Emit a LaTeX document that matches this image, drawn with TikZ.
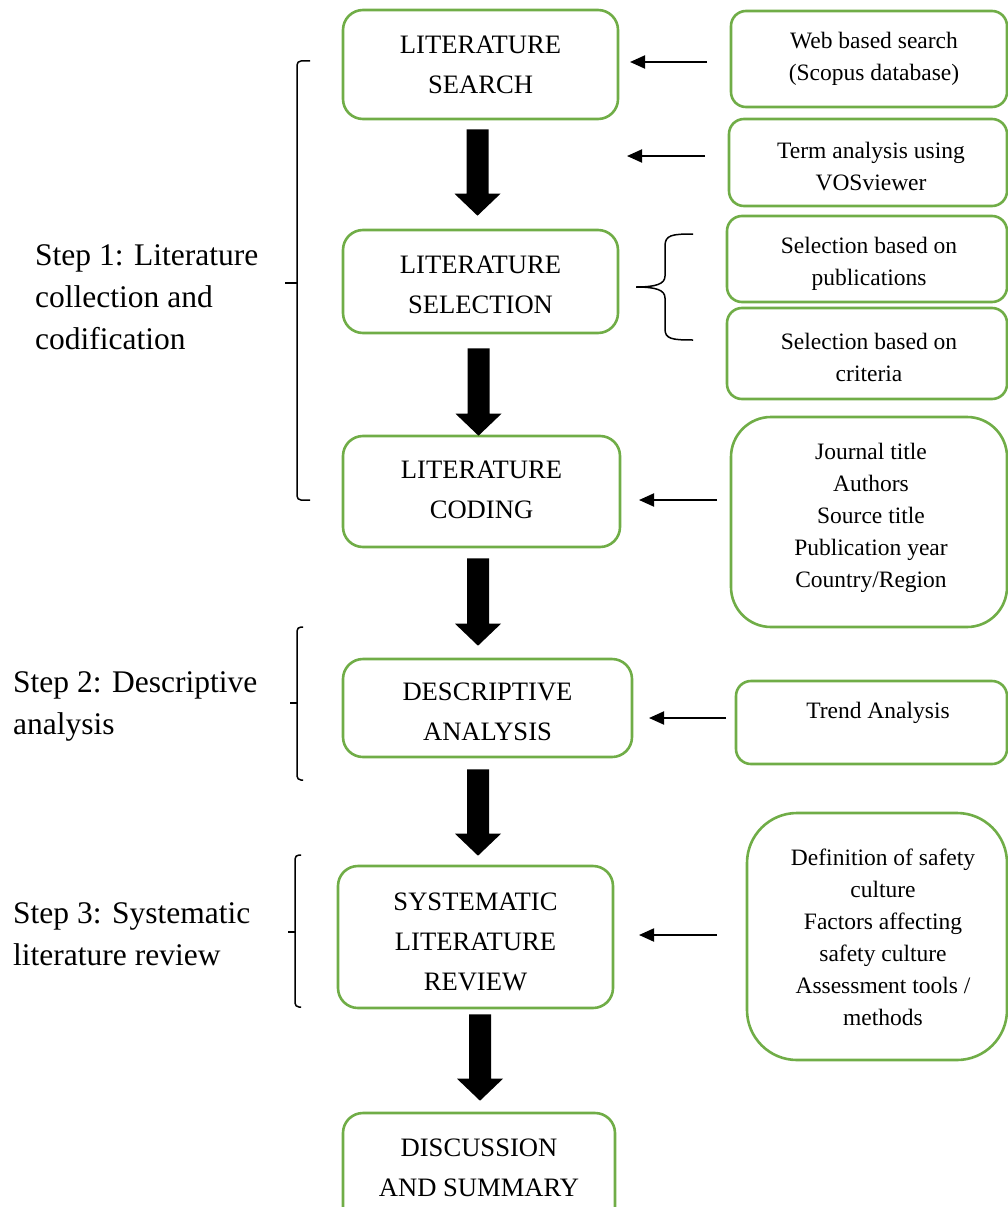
\documentclass[tikz,border=0pt]{standalone}
\usepackage{fontspec}
\setmainfont{Liberation Serif}
\usetikzlibrary{arrows.meta,calc}
\definecolor{bgreen}{RGB}{112,173,71}
\newcommand\blkarrow[2]{\fill let \p1=(#1), \p2=(#2) in (\x1-11pt,\y1) -- (\x1+11pt,\y1) -- (\x1+11pt,\y2+22pt) -- (\x1+23pt,\y2+22pt) -- (\x1,\y2) -- (\x1-23pt,\y2+22pt) -- (\x1-11pt,\y2+22pt) -- cycle;}
\begin{document}
\begin{tikzpicture}[x=1pt,y=-1pt,
  mbox/.style={draw=bgreen, line width=2.6pt, rounded corners=20pt, inner sep=0pt},
  rbox/.style={draw=bgreen, line width=2.6pt, rounded corners=15pt, inner sep=0pt},
  mtxt/.style={inner sep=0pt, align=center, font=\fontsize{26.6}{40}\selectfont},
  rtxt/.style={inner sep=0pt, align=center, font=\fontsize{23.5}{32}\selectfont},
  ltxt/.style={inner sep=0pt, align=left, anchor=west, font=\fontsize{31.5}{42}\selectfont},
  sarrow/.style={line width=1.9pt, -{Triangle[length=15pt,width=13pt]}},
  brk/.style={line width=1.5pt, rounded corners=4pt}]
\useasboundingbox (0,0) rectangle (1008,1207);

% main boxes
\node[mbox, minimum width=275pt, minimum height=109pt] (s1) at (480.5,64.5) {};
\node[mtxt] (s1t) at (480.5,64.5) {LITERATURE\\SEARCH};
\node[mbox, minimum width=275pt, minimum height=103pt] (s2) at (480.5,281.5) {};
\node[mtxt] (s2t) at (480.5,285) {LITERATURE\\SELECTION};
\node[mbox, minimum width=277pt, minimum height=111pt] (s3) at (481.5,491.5) {};
\node[mtxt] (s3t) at (481.5,490) {LITERATURE\\CODING};
\node[mbox, minimum width=289pt, minimum height=98pt] (s4) at (487.5,708) {};
\node[mtxt] (s4t) at (487.5,712) {DESCRIPTIVE\\ANALYSIS};
\node[mbox, minimum width=275pt, minimum height=142pt] (s5) at (475.5,937) {};
\node[mtxt] (s5t) at (475.5,942) {SYSTEMATIC\\LITERATURE\\REVIEW};
\node[mbox, minimum width=272pt, minimum height=130pt] (s6) at (479,1178) {};
\node[mtxt] (s6t) at (479,1167.5) {DISCUSSION\\AND SUMMARY};

% right boxes
\node[rbox, minimum width=276pt, minimum height=96pt] (r1) at (869,59) {};
\node[rtxt] (r1t) at (874,59) {Web based search\\(Scopus database)};
\node[rbox, minimum width=278pt, minimum height=87pt] (r2) at (868,162.5) {};
\node[rtxt] (r2t) at (871,167) {Term analysis using\\VOSviewer};
\node[rbox, minimum width=280pt, minimum height=86pt] (r3) at (867,259) {};
\node[rtxt] (r3t) at (869,263.5) {Selection based on\\publications};
\node[rbox, minimum width=280pt, minimum height=91pt] (r4) at (867,353.5) {};
\node[rtxt] (r4t) at (869,357) {Selection based on\\criteria};
\node[rbox, rounded corners=40pt, minimum width=276pt, minimum height=210pt] (r5) at (869,522) {};
\node[rtxt] (r5t) at (871,518) {Journal title\\Authors\\Source title\\Publication year\\Country/Region};
\node[rbox, minimum width=271pt, minimum height=83pt] (r6) at (871.5,722.5) {};
\node[rtxt] (r6t) at (878,713) {Trend Analysis};
\node[rbox, rounded corners=50pt, minimum width=260pt, minimum height=247pt] (r7) at (877,936.5) {};
\node[rtxt] (r7t) at (883,937.5) {Definition of safety\\culture\\Factors affecting\\safety culture\\Assessment tools /\\methods};

% left step labels
\node[ltxt] (l1) at (35,297) {Step 1: Literature\\collection and\\codification};
\node[ltxt] (l2) at (13,706.5) {Step 2: Descriptive\\analysis};
\node[ltxt] (l3) at (13,934) {Step 3: Systematic\\literature review};

% block arrows
\path (s1.south) ++(-3,9) coordinate (b1s);  \path (s2.north) ++(-3,-13) coordinate (b1e);
\path (s2.south) ++(-2,14) coordinate (b2s); \path (s3.north) ++(-2,1) coordinate (b2e);
\path (s3.south) ++(-3.5,10) coordinate (b3s); \path (s4.north) ++(-9.5,-12) coordinate (b3e);
\path (s4.south) ++(-9.5,11) coordinate (b4s); \path (s5.north) ++(2.5,-9) coordinate (b4e);
\path (s5.south) ++(4.5,5) coordinate (b5s); \path (s6.north) ++(1,-11) coordinate (b5e);
\blkarrow{b1s}{b1e}
\blkarrow{b2s}{b2e}
\blkarrow{b3s}{b3e}
\blkarrow{b4s}{b4e}
\blkarrow{b5s}{b5e}

% small arrows
\coordinate (a1s) at (707,62);  \coordinate (a1e) at (630,62);
\coordinate (a2s) at (705,156); \coordinate (a2e) at (627,156);
\coordinate (a5s) at (717,500); \coordinate (a5e) at (639,500);
\coordinate (a6s) at (726,718); \coordinate (a6e) at (649,718);
\coordinate (a7s) at (717,935); \coordinate (a7e) at (639,935);
\draw[sarrow] (a1s) -- (a1e);
\draw[sarrow] (a2s) -- (a2e);
\draw[sarrow] (a5s) -- (a5e);
\draw[sarrow] (a6s) -- (a6e);
\draw[sarrow] (a7s) -- (a7e);

% curly brace for selection
\draw[line width=1.5pt] (693,234) .. controls (672,234) and (665,235) .. (665,246) -- (665,276)
  .. controls (665,284) and (656,287) .. (636,287)
  .. controls (656,287) and (665,290) .. (665,298) -- (665,329)
  .. controls (665,339) and (672,340) .. (693,340);

% left brackets
\draw[brk] (310,61) -- (297,61) -- (297,500) -- (310,500);
\draw[line width=1.5pt] (297,283) -- (285,283);
\draw[brk] (303,627) -- (297,627) -- (297,780) -- (303,780);
\draw[line width=1.5pt] (297,703) -- (290,703);
\draw[brk] (301,855) -- (295,855) -- (295,1007) -- (301,1007);
\draw[line width=1.5pt] (295,932) -- (288,932);
\end{tikzpicture}
\end{document}
